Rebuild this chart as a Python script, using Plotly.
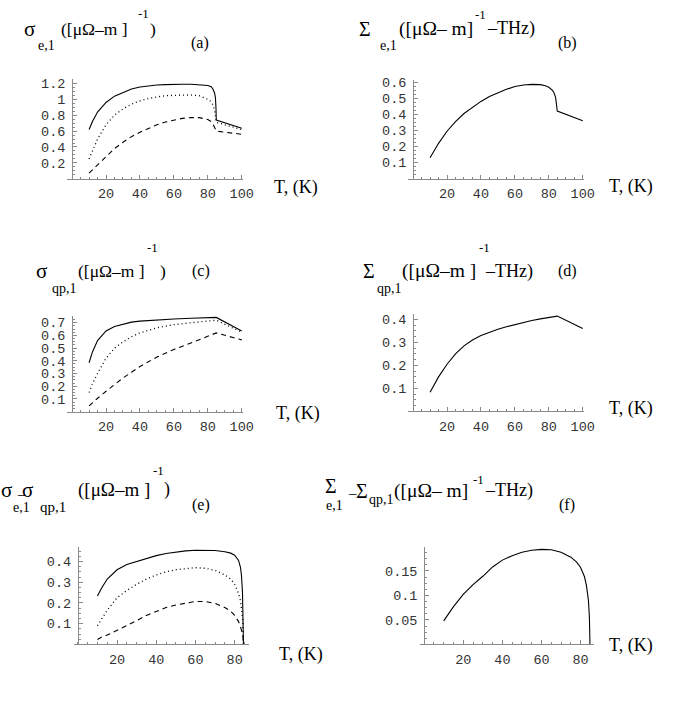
import plotly.graph_objects as go

W, H = 692, 704

# ---------------- data ----------------
T_a = [10, 12, 15, 20, 25, 30, 35, 40, 45, 50, 55, 60, 65, 70, 75, 80, 82, 83, 84, 84.5, 84.8, 85, 100]
a_solid = [0.62, 0.72, 0.84, 0.96, 1.04, 1.09, 1.13, 1.155, 1.17, 1.18, 1.185, 1.19, 1.19, 1.19, 1.185, 1.175, 1.16, 1.13, 1.08, 1.02, 0.9, 0.74, 0.635]
a_dot = [0.25, 0.36, 0.5, 0.68, 0.8, 0.88, 0.94, 0.98, 1.01, 1.03, 1.045, 1.05, 1.055, 1.055, 1.045, 1.0, 0.97, 0.93, 0.86, 0.8, 0.74, 0.71, 0.62]
a_dash = [0.07, 0.11, 0.17, 0.28, 0.38, 0.46, 0.53, 0.585, 0.635, 0.68, 0.715, 0.74, 0.76, 0.77, 0.77, 0.745, 0.72, 0.69, 0.65, 0.62, 0.6, 0.6, 0.56]

T_b = [10, 15, 20, 25, 30, 35, 40, 45, 50, 55, 60, 65, 70, 75, 78, 80, 82, 83, 84, 84.5, 85, 100]
b_solid = [0.13, 0.22, 0.295, 0.355, 0.405, 0.445, 0.48, 0.51, 0.535, 0.555, 0.572, 0.582, 0.586, 0.584, 0.577, 0.568, 0.55, 0.535, 0.505, 0.47, 0.42, 0.36]

T_c = [10, 12, 15, 20, 25, 30, 35, 40, 50, 60, 70, 80, 85, 100]
c_solid = [0.385, 0.47, 0.56, 0.635, 0.67, 0.69, 0.705, 0.713, 0.723, 0.73, 0.735, 0.74, 0.742, 0.635]
c_dot = [0.15, 0.22, 0.3, 0.42, 0.5, 0.55, 0.59, 0.62, 0.66, 0.685, 0.70, 0.715, 0.72, 0.625]
c_dash = [0.045, 0.07, 0.105, 0.16, 0.215, 0.265, 0.31, 0.355, 0.43, 0.49, 0.54, 0.59, 0.62, 0.565]

T_d = [10, 15, 20, 25, 30, 35, 40, 45, 50, 55, 60, 65, 70, 75, 80, 85, 100]
d_solid = [0.083, 0.15, 0.205, 0.25, 0.285, 0.31, 0.33, 0.345, 0.357, 0.368, 0.378, 0.387, 0.395, 0.402, 0.408, 0.414, 0.36]

T_e = [10, 12, 15, 20, 25, 30, 35, 40, 45, 50, 55, 60, 65, 70, 75, 78, 80, 82, 83, 83.5, 84, 84.3, 84.5]
e_solid = [0.234, 0.27, 0.315, 0.36, 0.385, 0.40, 0.415, 0.428, 0.438, 0.446, 0.451, 0.454, 0.455, 0.453, 0.447, 0.44, 0.43, 0.405, 0.37, 0.33, 0.25, 0.15, 0.0]
e_dot = [0.09, 0.12, 0.165, 0.225, 0.26, 0.29, 0.315, 0.335, 0.35, 0.36, 0.366, 0.37, 0.367, 0.357, 0.335, 0.315, 0.29, 0.245, 0.21, 0.18, 0.13, 0.08, 0.0]
e_dash = [0.024, 0.035, 0.045, 0.067, 0.09, 0.115, 0.14, 0.16, 0.178, 0.19, 0.2, 0.207, 0.207, 0.198, 0.178, 0.16, 0.14, 0.11, 0.085, 0.07, 0.05, 0.03, 0.0]

T_f = [10, 15, 20, 25, 30, 35, 40, 45, 50, 55, 60, 65, 70, 75, 78, 80, 82, 83, 84, 84.5, 84.8]
f_solid = [0.048, 0.077, 0.102, 0.122, 0.139, 0.158, 0.172, 0.181, 0.188, 0.192, 0.194, 0.193, 0.188, 0.178, 0.168, 0.157, 0.138, 0.12, 0.09, 0.055, 0.0]

x_ticks_100 = [20, 40, 60, 80, 100]
x_ticks_80 = [20, 40, 60, 80]
y_ticks_a = [0.2, 0.4, 0.6, 0.8, 1.0, 1.2]
y_text_a = ["0.2", "0.4", "0.6", "0.8", "1", "1.2"]
y_ticks_b = [0.1, 0.2, 0.3, 0.4, 0.5, 0.6]
y_text_b = ["0.1", "0.2", "0.3", "0.4", "0.5", "0.6"]
y_ticks_c = [0.1, 0.2, 0.3, 0.4, 0.5, 0.6, 0.7]
y_text_c = ["0.1", "0.2", "0.3", "0.4", "0.5", "0.6", "0.7"]
y_ticks_d = [0.1, 0.2, 0.3, 0.4]
y_text_d = ["0.1", "0.2", "0.3", "0.4"]
y_ticks_f = [0.05, 0.1, 0.15]
y_text_f = ["0.05", "0.1", "0.15"]

# ---------------- layout geometry (pixels) ----------------
panels = [
    dict(px=(68, 247), xr=(-3, 101), py=(75, 175), yr=(0, 1.25), xt=x_ticks_100,
         yt=y_ticks_a, ytt=y_text_a, ymin=0.05),
    dict(px=(414, 593), xr=(-3, 101), py=(76, 175), yr=(0, 0.61), xt=x_ticks_100,
         yt=y_ticks_b, ytt=y_text_b, ymin=0.025),
    dict(px=(68, 247), xr=(-3, 101), py=(313, 409.5), yr=(0, 0.755), xt=x_ticks_100,
         yt=y_ticks_c, ytt=y_text_c, ymin=0.025),
    dict(px=(414, 593), xr=(-3, 101), py=(311.5, 409.3), yr=(0, 0.422), xt=x_ticks_100,
         yt=y_ticks_d, ytt=y_text_d, ymin=0.025),
    dict(px=(75, 253), xr=(-2, 87.5), py=(546, 644), yr=(0, 0.469), xt=x_ticks_80,
         yt=y_ticks_d, ytt=y_text_d, ymin=0.025),
    dict(px=(426, 603), xr=(-2.2, 87), py=(546, 644), yr=(0, 0.1985), xt=x_ticks_80,
         yt=y_ticks_f, ytt=y_text_f, ymin=0.0125),
]

series = [
    [(T_a, a_solid, "solid"), (T_a, a_dot, "dot"), (T_a, a_dash, "dash")],
    [(T_b, b_solid, "solid")],
    [(T_c, c_solid, "solid"), (T_c, c_dot, "dot"), (T_c, c_dash, "dash")],
    [(T_d, d_solid, "solid")],
    [(T_e, e_solid, "solid"), (T_e, e_dot, "dot"), (T_e, e_dash, "dash")],
    [(T_f, f_solid, "solid")],
]

dash_map = {"solid": "solid", "dot": "1px,3px", "dash": "5px,4px"}
width_map = {"solid": 1.1, "dot": 1.3, "dash": 1.1}

fig = go.Figure()
AX = "#8a8a8a"
TICKFONT = dict(family="Liberation Mono, Courier New, monospace", size=13.5, color="#333")

for i, (p, ser) in enumerate(zip(panels, series)):
    n = i + 1
    xa = "x" if n == 1 else f"x{n}"
    ya = "y" if n == 1 else f"y{n}"
    for tx, vy, style in ser:
        fig.add_trace(go.Scatter(x=tx, y=vy, mode="lines", xaxis=xa, yaxis=ya,
                                 line=dict(color="black", width=width_map[style],
                                           dash=dash_map[style]),
                                 showlegend=False, hoverinfo="skip"))
    x0, x1 = p["px"]
    ytop, ybot = p["py"]
    xr, yr = p["xr"], p["yr"]
    zero_px = x0 + (0 - xr[0]) / (xr[1] - xr[0]) * (x1 - x0)
    xkey = "xaxis" if n == 1 else f"xaxis{n}"
    ykey = "yaxis" if n == 1 else f"yaxis{n}"
    fig.update_layout(**{
        xkey: dict(domain=[x0 / W, x1 / W], range=list(xr), anchor=ya,
                   showgrid=False, zeroline=False, showline=True, linecolor=AX, linewidth=1,
                   ticks="inside", ticklen=4, tickcolor=AX, tickwidth=1,
                   tickmode="array", tickvals=p["xt"], ticktext=[str(v) for v in p["xt"]],
                   tickfont=TICKFONT, ticklabelstandoff=2,
                   minor=dict(ticks="inside", ticklen=2, tickcolor=AX, dtick=5, tick0=0,
                              showgrid=False)),
        ykey: dict(domain=[1 - ybot / H, 1 - ytop / H], range=list(yr), anchor="free",
                   position=zero_px / W,
                   showgrid=False, zeroline=False, showline=True, linecolor=AX, linewidth=1,
                   ticks="inside", ticklen=4, tickcolor=AX, tickwidth=1,
                   tickmode="array", tickvals=p["yt"], ticktext=p["ytt"],
                   tickfont=TICKFONT, ticklabelstandoff=4,
                   minor=dict(ticks="inside", ticklen=2, tickcolor=AX, dtick=p["ymin"], tick0=0,
                              showgrid=False)),
    })

# ---------------- text (titles, labels) ----------------
SERIF = "Liberation Serif, Times New Roman, serif"
# (text, x_px, y_px, size, xanchor)
texts = [
    # (a)
    ("σ", 22, 28, 21, "left"), ("e,1", 37, 45, 14, "left"), ("([μΩ–m ]", 60, 28, 17.5, "left"),
    ("-1", 138, 13, 13, "left"), (")", 150, 28, 17.5, "left"), ("(a)", 200, 42, 16, "center"),
    ("T, (K)", 297, 188, 18, "center"),
    # (b)
    ("Σ", 362, 28, 20, "left"), ("e,1", 384, 45, 14, "left"), ("([μΩ– m]", 403, 28, 19.5, "left"),
    ("-1", 480, 14, 13, "left"), ("–THz)", 492, 28, 18, "left"), ("(b)", 573, 42, 16, "center"),
    ("T, (K)", 637, 187, 18, "center"),
    # (c)
    ("σ", 35, 272, 21, "left"), ("qp,1", 51, 290, 14, "left"), ("([μΩ–m ]", 77, 272, 17.5, "left"),
    ("-1", 147, 248, 13, "left"), (")", 160, 272, 17.5, "left"), ("(c)", 201, 272, 16, "center"),
    ("T, (K)", 299, 415, 18, "center"),
    # (d)
    ("Σ", 366, 272, 20, "left"), ("qp,1", 380, 290, 14, "left"), ("([μΩ–m ]", 406, 272, 19.5, "left"),
    ("-1", 484, 248, 13, "left"), ("–THz)", 490, 272, 18, "left"), ("(d)", 573, 272, 16, "center"),
    ("T, (K)", 637, 410, 18, "center"),
    # (e)
    ("σ", -1, 492, 21, "left"), ("e,1", 11, 510, 14, "left"), ("–", 15, 496, 15, "left"),
    ("σ", 20, 492, 21, "left"), ("qp,1", 39, 510, 15, "left"), ("([μΩ–m ]", 77, 492, 19, "left"),
    ("-1", 153, 473, 13, "left"), (")", 164, 492, 18, "left"), ("(e)", 201, 508, 16, "center"),
    ("T, (K)", 302, 658, 18, "center"),
    # (f)
    ("Σ", 328, 488, 20, "left"), ("e,1", 329, 508, 14, "left"), ("–", 351, 495, 15, "left"),
    ("Σ", 359, 493, 20, "left"), ("qp,1", 372, 502, 14, "left"), ("([μΩ– m]", 398, 493, 19.5, "left"),
    ("-1", 478, 482, 13, "left"), ("–THz)", 490, 493, 18, "left"), ("(f)", 572, 508, 16, "center"),
    ("T, (K)", 637, 649, 18, "center"),
]
DY = -4
for t, x, y, s, anc in texts:
    dx = 3 if anc == "center" else 0
    fig.add_annotation(text=t, x=(x + dx) / W, y=1 - (y + DY) / H, xref="paper", yref="paper",
                       xanchor=anc, yanchor="middle", showarrow=False,
                       font=dict(family=SERIF, size=s, color="black"))

fig.update_layout(width=W, height=H, margin=dict(l=0, r=0, t=0, b=0),
                  paper_bgcolor="white", plot_bgcolor="white", showlegend=False)

fig.write_html("out.html", config={"displayModeBar": False},
               post_script="document.body.style.margin='0';document.body.style.padding='0';")
